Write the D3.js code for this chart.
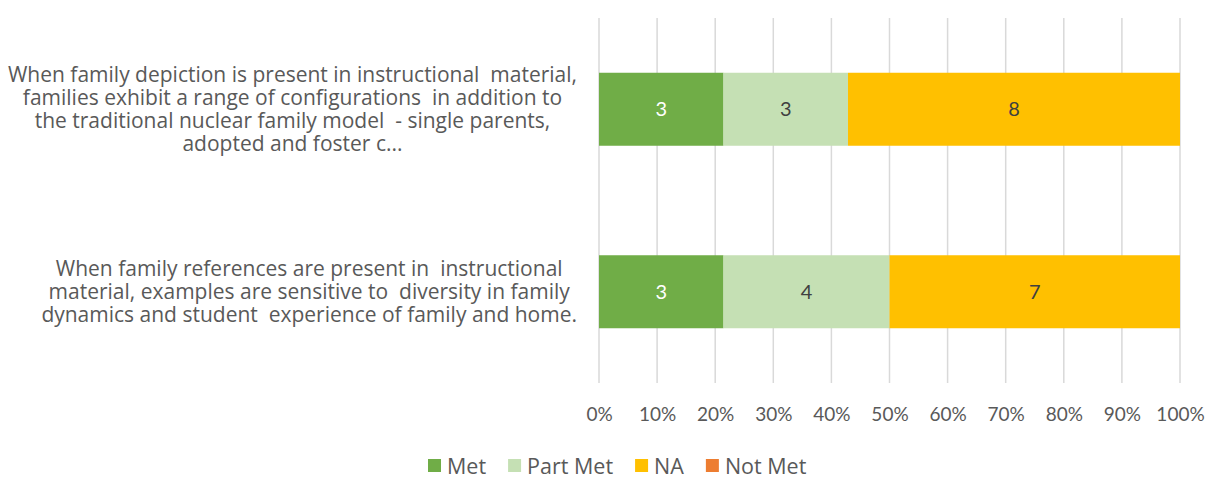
<!DOCTYPE html>
<html>
<head>
<meta charset="utf-8">
<script src="https://cdn.jsdelivr.net/npm/d3@7"></script>
<style>
  body { margin: 0; background: #fff; }
  text { font-family: Lato, "Open Sans", sans-serif; fill: #595959; }
  .cat { font-family: "Open Sans", sans-serif; white-space: pre; }
  .leg { font-family: "Open Sans", sans-serif; }
</style>
</head>
<body>
<svg id="chart" width="1215" height="479"></svg>
<script>
"use strict";

var categories = [
    ["When family depiction is present in instructional  material,",
     "families exhibit a range of configurations  in addition to",
     "the traditional nuclear family model  - single parents,",
     "adopted and foster c..."],
    ["When family references are present in  instructional",
     "material, examples are sensitive to  diversity in family",
     "dynamics and student  experience of family and home."]
];
var seriesNames = ["Met", "Part Met", "NA", "Not Met"];
var seriesColors = ["#70AD47", "#C5E0B4", "#FFC000", "#ED7D31"];
var labelColors = ["#ffffff", "#404040", "#404040", "#404040"];
var metValues = [3, 3];
var partMetValues = [3, 4];
var naValues = [8, 7];
var notMetValues = [0, 0];
var tickValues = [0, 0.1, 0.2, 0.3, 0.4, 0.5, 0.6, 0.7, 0.8, 0.9, 1];

var svg = d3.select('#chart');
var margin = { left: 599, right: 35, top: 18, bottom: 96 };
var width = 1215, height = 479;

var x = d3.scaleLinear().domain([0, 1]).range([margin.left, width - margin.right]);
var y = d3.scaleBand().domain(d3.range(categories.length))
    .range([margin.top, height - margin.bottom]).paddingInner(0.6).paddingOuter(0.3);

// stacked data, normalized to 100%
var rows = categories.map((c, i) => {
    var vals = [metValues[i], partMetValues[i], naValues[i], notMetValues[i]];
    var total = d3.sum(vals);
    var acc = 0;
    return vals.map((v, k) => {
        var seg = { row: i, key: k, value: v, x0: acc / total, x1: (acc + v) / total };
        acc += v;
        return seg;
    });
});

// gridlines
svg.append('g').selectAll('line')
    .data(tickValues)
    .join('line')
    .attr('x1', d => x(d)).attr('x2', d => x(d))
    .attr('y1', margin.top).attr('y2', height - margin.bottom)
    .attr('stroke', '#d9d9d9').attr('stroke-width', 1.5);

// axis labels
var axis = d3.axisBottom(x).tickValues(tickValues).tickFormat(d3.format('.0%')).tickSize(0);
var gAxis = svg.append('g')
    .attr('transform', `translate(0,${height - margin.bottom + 21})`)
    .call(axis);
gAxis.select('.domain').remove();
gAxis.selectAll('text').attr('font-size', 19).style('fill', '#595959')
    .style('font-family', 'Lato, "Open Sans", sans-serif');

// bars
var segs = svg.append('g').selectAll('g')
    .data(rows.flat().filter(d => d.value > 0))
    .join('g');

segs.append('rect')
    .attr('x', d => x(d.x0))
    .attr('y', d => y(d.row))
    .attr('width', d => x(d.x1) - x(d.x0))
    .attr('height', y.bandwidth())
    .attr('fill', d => seriesColors[d.key]);

segs.append('text')
    .attr('x', d => (x(d.x0) + x(d.x1)) / 2)
    .attr('y', d => y(d.row) + y.bandwidth() / 2)
    .attr('dy', '0.35em')
    .attr('text-anchor', 'middle')
    .attr('font-size', 20)
    .style('fill', d => labelColors[d.key])
    .text(d => d.value);

// category labels (wrapped block, right aligned, lines centered)
var lineH = 23;
categories.forEach((lines, i) => {
    var g = svg.append('g');
    var cy = y(i) + y.bandwidth() / 2;
    var texts = g.selectAll('text')
        .data(lines)
        .join('text')
        .attr('class', 'cat')
        .attr('font-size', 21)
        .attr('text-anchor', 'middle')
        .attr('y', (d, j) => cy + (j - (lines.length - 1) / 2) * lineH)
        .attr('dy', '0.35em')
        .text(d => d);
    var maxW = d3.max(texts.nodes(), n => n.getComputedTextLength());
    texts.attr('x', 577 - maxW / 2);
});

// legend
var legend = svg.append('g');
var lx = 428;
seriesNames.forEach((name, k) => {
    var item = legend.append('g').attr('transform', `translate(${lx},0)`);
    item.append('rect').attr('x', 0).attr('y', 459).attr('width', 13).attr('height', 13)
        .attr('fill', seriesColors[k]);
    var t = item.append('text').attr('class', 'leg').attr('x', 19).attr('y', 466).attr('dy', '0.35em')
        .attr('font-size', 21.5).text(name);
    lx += 19 + t.node().getComputedTextLength() + 22;
});
</script>
</body>
</html>
